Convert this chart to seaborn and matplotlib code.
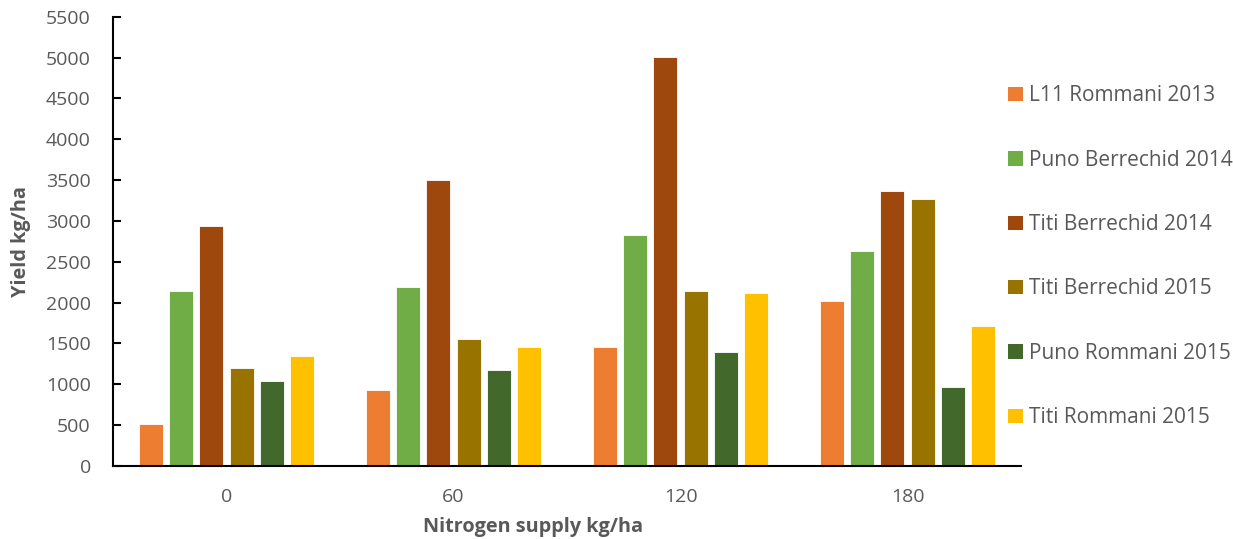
import matplotlib
matplotlib.use("Agg")
import matplotlib.pyplot as plt
import seaborn as sns
import pandas as pd

nitrogen = ["0", "60", "120", "180"]
series = ["L11 Rommani 2013", "Puno Berrechid 2014", "Titi Berrechid 2014",
          "Titi Berrechid 2015", "Puno Rommani 2015", "Titi Rommani 2015"]
l11_rommani_2013 = [520, 930, 1455, 2020]
puno_berrechid_2014 = [2140, 2190, 2825, 2635]
titi_berrechid_2014 = [2940, 3500, 5010, 3370]
titi_berrechid_2015 = [1200, 1552, 2140, 3268]
puno_rommani_2015 = [1037, 1172, 1400, 972]
titi_rommani_2015 = [1347, 1455, 2112, 1712]
colors = ["#ED7D31", "#70AD47", "#9E480E", "#997300", "#43682B", "#FFC000"]
yticks = list(range(0, 5501, 500))

values = [l11_rommani_2013, puno_berrechid_2014, titi_berrechid_2014,
          titi_berrechid_2015, puno_rommani_2015, titi_rommani_2015]
rows = []
for s, vals in zip(series, values):
    for n, v in zip(nitrogen, vals):
        rows.append({"N": n, "Yield": v, "Series": s})
df = pd.DataFrame(rows)

sns.set_theme(style="white")
plt.rcParams["font.family"] = ["Open Sans", "DejaVu Sans"]
txt = "#595959"

fig = plt.figure(figsize=(12.33, 5.39), dpi=100)
ax = fig.add_axes([113/1233, 1-466/539, (1021-113)/1233, (466-16.7)/539])
sns.barplot(data=df, x="N", y="Yield", hue="Series", order=nitrogen,
            hue_order=series, palette=colors, saturation=1, width=0.8,
            gap=0.2, edgecolor="white", linewidth=0.6, ax=ax, legend=True)

ax.set_xlim(-0.5, 3.5)
ax.set_ylim(0, 5500)
ax.set_yticks(yticks)
ax.set_yticklabels([str(t) for t in yticks])
for sp in ["top", "right"]:
    ax.spines[sp].set_visible(False)
ax.spines["left"].set_color("black")
ax.spines["bottom"].set_color("black")
ax.spines["left"].set_linewidth(1.5)
ax.spines["bottom"].set_linewidth(1.5)
ax.tick_params(axis="y", which="major", left=True, direction="in", length=6,
               width=1.5, color="black", labelsize=14, labelcolor=txt, pad=16)
ax.tick_params(axis="x", bottom=False, labelsize=14, labelcolor=txt, pad=10)

ax.set_xlabel("Nitrogen supply kg/ha", fontsize=14.3, fontweight="bold",
              color=txt, va="center")
ax.set_ylabel("Yield kg/ha", fontsize=14.3, fontweight="bold", color=txt,
              va="center", ha="center")
ax.xaxis.set_label_coords((533-113)/908, -(527-466)/449.3)
ax.yaxis.set_label_coords(-(113-21)/908, 0.5)

handles, labels = ax.get_legend_handles_labels()
ax.get_legend().remove()
leg = fig.legend(handles, labels, loc="upper left",
                 bbox_to_anchor=(1000/1233, 1-77/539), frameon=False,
                 fontsize=15, labelcolor=txt, handlelength=0.68,
                 handleheight=0.68, handletextpad=0.3, labelspacing=2.08,
                 borderaxespad=0)
for h in leg.legend_handles:
    h.set_edgecolor("none")

fig.savefig("out.png", dpi=100)
